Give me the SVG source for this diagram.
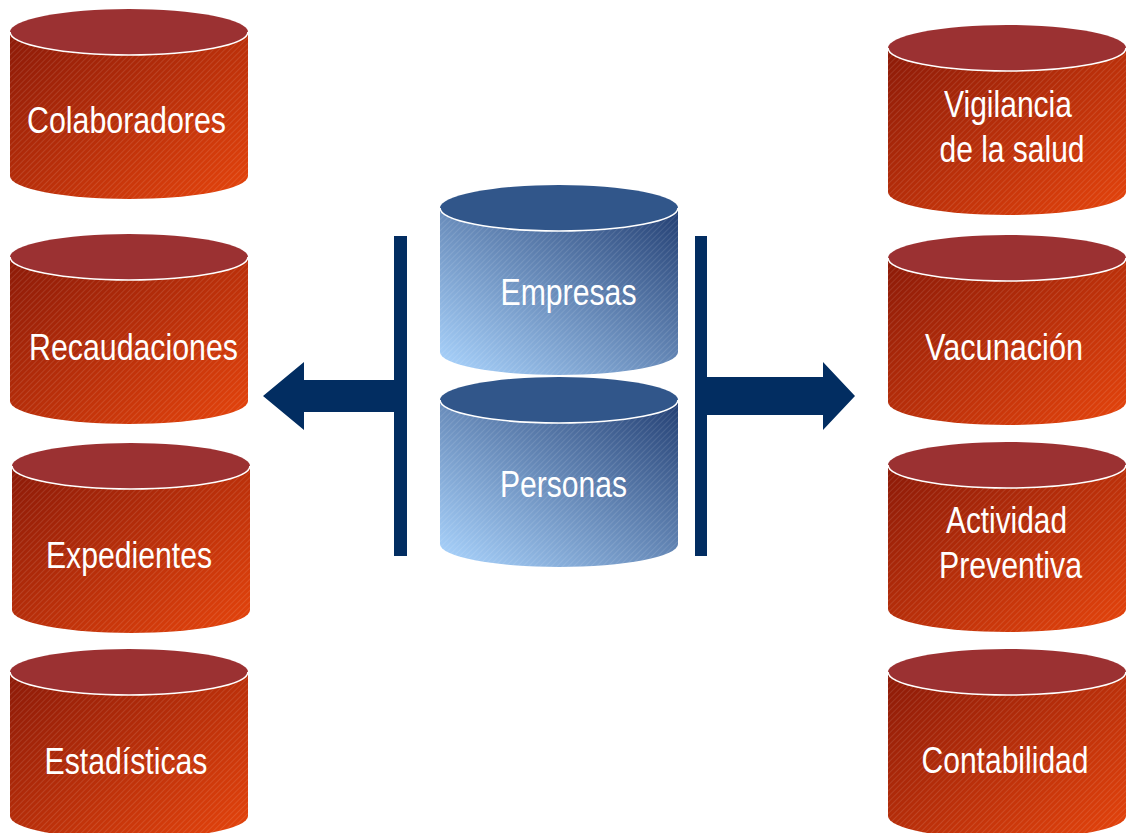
<svg xmlns="http://www.w3.org/2000/svg" xmlns:xlink="http://www.w3.org/1999/xlink" width="1130" height="833" viewBox="0 0 1130 833">
<defs>
<linearGradient id="gRed" x1="0" y1="0" x2="1" y2="1">
<stop offset="0" stop-color="#8c1a08"/>
<stop offset="1" stop-color="#e5440c"/>
</linearGradient>
<linearGradient id="gBlue" x1="1" y1="0" x2="0" y2="1">
<stop offset="0" stop-color="#233f73"/>
<stop offset="1" stop-color="#acd6ff"/>
</linearGradient>
<pattern id="hatch" patternUnits="userSpaceOnUse" width="4" height="4" patternTransform="rotate(45)">
<rect x="0" y="0" width="0.9" height="4" fill="#ffffff" fill-opacity="0.12"/>
</pattern>
<path id="body" d="M0,23 V167 A119,23 0 0 0 238,167 V23 Z"/>
<ellipse id="top" cx="119" cy="23" rx="119" ry="23"/>
<path id="rim" d="M0,23 A119,23 0 0 0 238,23"/>
</defs>
<style>
.rb{fill:url(#gRed)}
.bb{fill:url(#gBlue)}
.ht{fill:url(#hatch)}
.rt{fill:#9b3132}
.bt{fill:#31568a}
.rim{fill:none;stroke:#ffffff;stroke-width:1.6}
.lbl{font-family:"Liberation Sans",Arial,sans-serif;font-size:36px;fill:#ffffff;text-anchor:middle}
.conn{fill:#022d61}
</style>
<g id="colaboradores" transform="translate(10,9)">
<use xlink:href="#body" class="rb"/><use xlink:href="#body" class="ht"/><use xlink:href="#top" class="rt"/><use xlink:href="#rim" class="rim"/>
<text class="lbl" x="116.5" y="124" textLength="199" lengthAdjust="spacingAndGlyphs">Colaboradores</text>
</g>
<g id="recaudaciones" transform="translate(10,234)">
<use xlink:href="#body" class="rb"/><use xlink:href="#body" class="ht"/><use xlink:href="#top" class="rt"/><use xlink:href="#rim" class="rim"/>
<text class="lbl" x="123.5" y="126" textLength="209" lengthAdjust="spacingAndGlyphs">Recaudaciones</text>
</g>
<g id="expedientes" transform="translate(12,443)">
<use xlink:href="#body" class="rb"/><use xlink:href="#body" class="ht"/><use xlink:href="#top" class="rt"/><use xlink:href="#rim" class="rim"/>
<text class="lbl" x="117" y="125" textLength="166" lengthAdjust="spacingAndGlyphs">Expedientes</text>
</g>
<g id="estadisticas" transform="translate(10,649)">
<use xlink:href="#body" class="rb"/><use xlink:href="#body" class="ht"/><use xlink:href="#top" class="rt"/><use xlink:href="#rim" class="rim"/>
<text class="lbl" x="116" y="125" textLength="163" lengthAdjust="spacingAndGlyphs">Estadísticas</text>
</g>
<g id="vigilancia" transform="translate(888,25)">
<use xlink:href="#body" class="rb"/><use xlink:href="#body" class="ht"/><use xlink:href="#top" class="rt"/><use xlink:href="#rim" class="rim"/>
<text class="lbl" x="120" y="92" textLength="128" lengthAdjust="spacingAndGlyphs">Vigilancia</text>
<text class="lbl" x="124" y="137" textLength="145" lengthAdjust="spacingAndGlyphs">de la salud</text>
</g>
<g id="vacunacion" transform="translate(888,235)">
<use xlink:href="#body" class="rb"/><use xlink:href="#body" class="ht"/><use xlink:href="#top" class="rt"/><use xlink:href="#rim" class="rim"/>
<text class="lbl" x="116" y="125" textLength="158" lengthAdjust="spacingAndGlyphs">Vacunación</text>
</g>
<g id="actividad" transform="translate(888,442)">
<use xlink:href="#body" class="rb"/><use xlink:href="#body" class="ht"/><use xlink:href="#top" class="rt"/><use xlink:href="#rim" class="rim"/>
<text class="lbl" x="118.5" y="91" textLength="121" lengthAdjust="spacingAndGlyphs">Actividad</text>
<text class="lbl" x="122.5" y="136" textLength="143" lengthAdjust="spacingAndGlyphs">Preventiva</text>
</g>
<g id="contabilidad" transform="translate(888,649)">
<use xlink:href="#body" class="rb"/><use xlink:href="#body" class="ht"/><use xlink:href="#top" class="rt"/><use xlink:href="#rim" class="rim"/>
<text class="lbl" x="117" y="124" textLength="167" lengthAdjust="spacingAndGlyphs">Contabilidad</text>
</g>
<g id="empresas" transform="translate(440,185)">
<use xlink:href="#body" class="bb"/><use xlink:href="#body" class="ht"/><use xlink:href="#top" class="bt"/><use xlink:href="#rim" class="rim"/>
<text class="lbl" x="128.5" y="120" textLength="136" lengthAdjust="spacingAndGlyphs">Empresas</text>
</g>
<g id="personas" transform="translate(440,377)">
<use xlink:href="#body" class="bb"/><use xlink:href="#body" class="ht"/><use xlink:href="#top" class="bt"/><use xlink:href="#rim" class="rim"/>
<text class="lbl" x="123.5" y="120" textLength="127" lengthAdjust="spacingAndGlyphs">Personas</text>
</g>
<g id="connectors">
<rect class="conn" x="394" y="236" width="13" height="320"/>
<polygon class="conn" points="263,396 304,362 304,380 394,380 394,412 304,412 304,430"/>
<rect class="conn" x="695" y="236" width="12" height="320"/>
<polygon class="conn" points="707,377 823,377 823,362 855,396 823,430 823,415 707,415"/>
</g>
</svg>
